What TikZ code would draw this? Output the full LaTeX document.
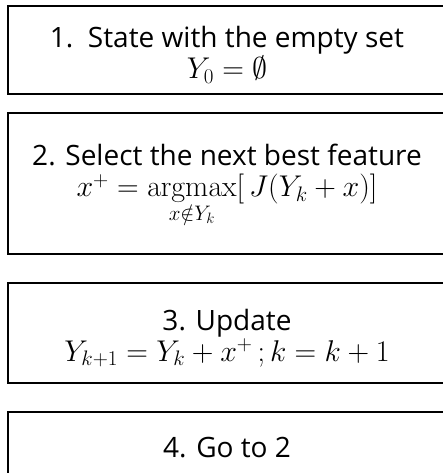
\RequirePackage{fix-cm}
\documentclass[tikz,border=0pt]{standalone}
\usepackage[no-math]{fontspec}
\setmainfont{Open Sans}
\usetikzlibrary{positioning}

\newcommand{\mathline}[1]{{\fontsize{30}{30}\selectfont$#1$}}

\begin{document}
\begin{tikzpicture}[x=1pt, y=1pt, font=\fontsize{28}{31}\selectfont,
  stepbox/.style={draw, line width=1.3pt, minimum width=438pt, inner sep=0pt},
  steptext/.style={align=center, inner sep=0pt}]
  \useasboundingbox (0,0) rectangle (443,473);
  % frames of the four steps
  \node[stepbox, minimum height=88pt] (start) at (227,423) {};
  \node[stepbox, minimum height=141pt] (select) at (227,289.5) {};
  \node[stepbox, minimum height=100pt] (update) at (227,140) {};
  \node[stepbox, minimum height=66pt] (goto) at (227,28) {};
  % texts, a little below the middle
  \node[steptext] (starttext) at ([yshift=-5pt]start.center)
    {1.\ \ State with the empty set\\\mathline{Y_0 = \emptyset}};
  \node[steptext] (selecttext) at ([yshift=-1pt]select.center)
    {2. Select the next best feature\\
     \mathline{x^+ = \mathop{\mathrm{argmax}}\limits_{x\notin Y_k}[\,J(Y_k + x)]}};
  \node[steptext] (updatetext) at ([yshift=-5pt]update.center)
    {3. Update\\\mathline{Y_{k+1} = Y_k + x^+\,; k = k + 1}};
  \node[steptext] (gototext) at ([yshift=-3pt]goto.center)
    {4. Go to 2};
\end{tikzpicture}
\end{document}
